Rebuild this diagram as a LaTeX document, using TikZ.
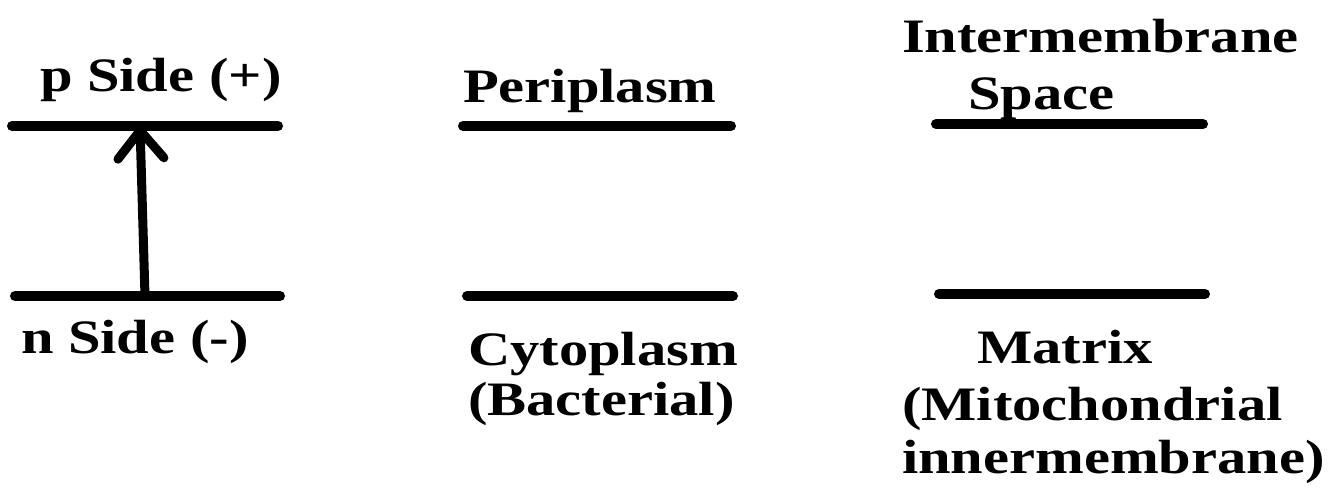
\documentclass[tikz,border=0pt]{standalone}
\usepackage{fontspec}
\usetikzlibrary{arrows.meta}
\newfontfamily\labfont[FakeStretch=1.22]{Liberation Serif}
\begin{document}
\begin{tikzpicture}[x=1pt,y=-1pt,
  membrane/.style={line width=10pt,line cap=round},
  lab/.style={anchor=base west,inner sep=0pt,outer sep=0pt,
    font=\labfont\bfseries\fontsize{48}{56}\selectfont},
  uparrow/.style={line width=9pt,line cap=round,
    -{Straight Barb[length=28pt,width=46pt,round]}}]
\useasboundingbox[fill=white] (0,0) rectangle (1337,489);
% membranes
\draw[membrane] (12,126) -- (278,126);
\draw[membrane] (15,296) -- (280,296);
\draw[membrane] (463,126) -- (731,126);
\draw[membrane] (467,296) -- (733,296);
\draw[membrane] (936,124) -- (1203,124);
\draw[membrane] (939,294) -- (1205,294);
% arrow
\coordinate (nbase) at (145,296);
\coordinate (ptip) at (140,126);
\draw[uparrow] (nbase) -- (ptip);
% labels
\node[lab] (pside) at (40,92) {p Side (+)};
\node[lab] (nside) at (21,353) {n Side (-)};
\node[lab] (peri) at (463,103) {Periplasm};
\node[lab] (cyto) at (468,365) {Cytoplasm};
\node[lab] (bact) at (468,415) {(Bacterial)};
\node[lab] (inter) at (902,53) {Intermembrane};
\node[lab] (space) at (968,110) {Space};
\node[lab] (matrix) at (977,363) {Matrix};
\node[lab] (mito) at (902,420) {(Mitochondrial};
\node[lab] (inner) at (902,473) {innermembrane)};
\end{tikzpicture}
\end{document}
